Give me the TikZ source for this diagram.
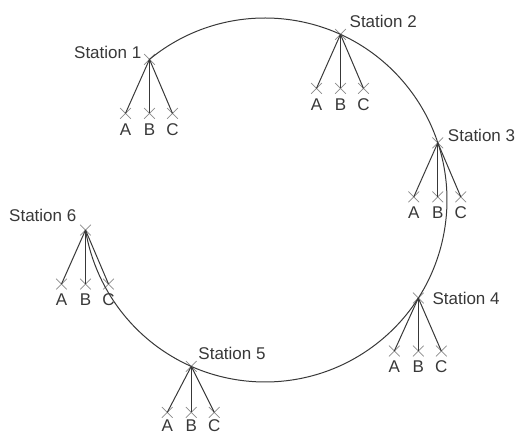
\documentclass[tikz,border=0pt]{standalone}
\usepackage{fontspec}
\setmainfont{Liberation Sans}
\usetikzlibrary{shapes.misc, positioning, calc}
\definecolor{ink}    {HTML}{383838}
\definecolor{xgray}  {HTML}{8A8A8A}
\tikzset{
  xmark/.style    = {draw=xgray, cross out, minimum size=10pt,
                     inner sep=0pt, line width=0.7pt},
  leg/.style      = {draw=ink, line width=1pt},
  ring/.style     = {draw=ink, line width=1pt},
  stlabel/.style  = {font=\fontsize{17}{19}\selectfont, text=ink, inner sep=0pt},
  leaflabel/.style= {font=\fontsize{17}{19}\selectfont, text=ink, inner sep=0pt},
}
\begin{document}
\begin{tikzpicture}[x=1pt, y=1pt]
  \useasboundingbox (0,0) rectangle (520,438);

  \coordinate (ctr) at (265,238);

  % stations on the ring, with their three branches
  \foreach \n/\ang/\dep/\gap in {1/129.4/54/4.5, 2/65.5/54/4.5, 3/18.3/54/4.5,
                                 4/-32.6/53/4.5, 5/-113.9/46/2, 6/189.5/54/4.5} {
    \node[xmark] (st\n) at ($(ctr)+(\ang:182pt)$) {};
    \node[xmark] (st\n a) at ($(st\n)+(-24pt,-\dep pt)$) {};
    \node[xmark] (st\n b) at ($(st\n)+(0pt,-\dep pt)$) {};
    \node[xmark] (st\n c) at ($(st\n)+(23pt,-\dep pt)$) {};
    \foreach \l in {a, b, c}
      \draw[leg] (st\n.center) -- (st\n\l.center);
    \node[leaflabel, below=\gap pt of st\n a] {A};
    \node[leaflabel, below=\gap pt of st\n b] {B};
    \node[leaflabel, below=\gap pt of st\n c] {C};
  }

  % the ring, open between station 6 and station 1
  \draw[ring] (st1.center) arc[start angle=129.4, end angle=-170.5, radius=182pt];

  % station names
  \node[stlabel, anchor=east] at ($(st1)+(-8pt,7pt)$)  {Station 1};
  \node[stlabel, anchor=west] at ($(st2)+(9pt,13pt)$)  {Station 2};
  \node[stlabel, anchor=west] at ($(st3)+(10pt,7pt)$)  {Station 3};
  \node[stlabel, anchor=west] at ($(st4)+(14pt,0pt)$)  {Station 4};
  \node[stlabel, anchor=west] at ($(st5)+(7pt,13pt)$)  {Station 5};
  \node[stlabel, anchor=east] at ($(st6)+(-9pt,15pt)$) {Station 6};

\end{tikzpicture}
\end{document}
